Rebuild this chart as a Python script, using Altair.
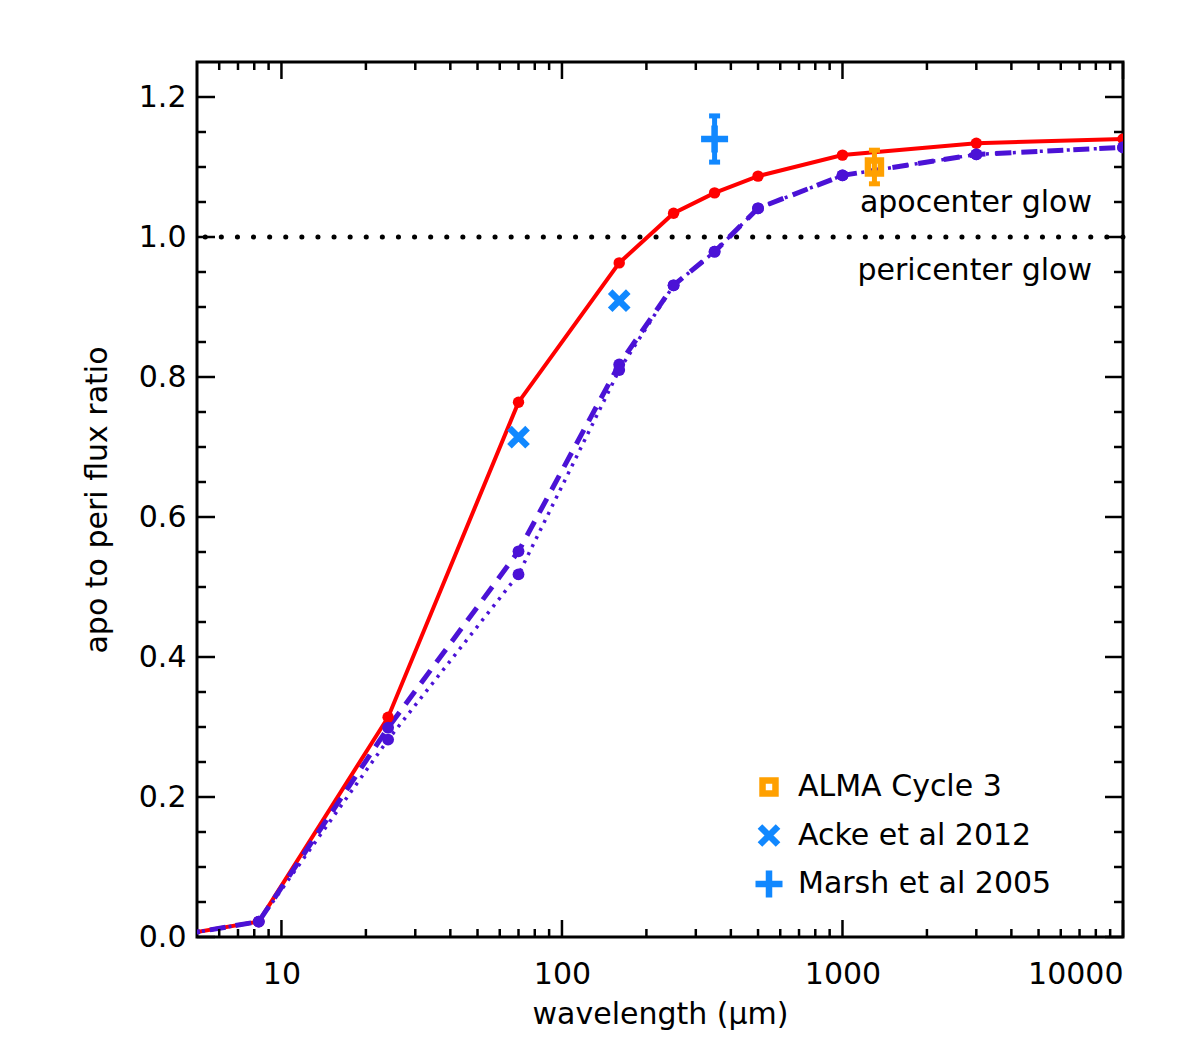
import altair as alt
import pandas as pd

FONT = "DejaVu Sans"

# Model curves: wavelength (micron) vs apocenter-to-pericenter flux ratio
wavelength = [4.5, 8.3, 24, 70, 160, 250, 350, 500, 1000, 3000, 10000]
ratio_solid = [0.004, 0.022, 0.314, 0.764, 0.963, 1.034, 1.063, 1.087, 1.117, 1.134, 1.140]
ratio_dashed = [0.004, 0.022, 0.299, 0.551, 0.818, 0.931, 0.979, 1.041, 1.088, 1.118, 1.128]
ratio_dotted = [0.004, 0.022, 0.282, 0.518, 0.810, 0.931, 0.979, 1.041, 1.088, 1.118, 1.128]

# Observed ratios
obs_source = ["ALMA Cycle 3", "Acke et al 2012", "Acke et al 2012", "Marsh et al 2005"]
obs_wavelength = [1300, 70, 160, 350]
obs_ratio = [1.100, 0.714, 0.909, 1.140]
obs_error = [0.024, 0.0, 0.0, 0.033]

legend_names = ["ALMA Cycle 3", "Acke et al 2012", "Marsh et al 2005"]
legend_colors = ["#ffa000", "#1188ff", "#1188ff"]
legend_shapes = [
    "M-0.48,-0.48H0.48V0.48H-0.48Z",
    "M-0.67,-0.67L0.67,0.67M0.67,-0.67L-0.67,0.67",
    "M-1,0H1M0,-1V1",
]

# Axis tick positions
x_major = [10, 100, 1000, 10000]
x_minor = [6, 7, 8, 9, 20, 30, 40, 50, 60, 70, 80, 90,
           200, 300, 400, 500, 600, 700, 800, 900,
           2000, 3000, 4000, 5000, 6000, 7000, 8000, 9000]
y_major = [0.0, 0.2, 0.4, 0.6, 0.8, 1.0, 1.2]
y_minor = [0.05, 0.1, 0.15, 0.25, 0.3, 0.35, 0.45, 0.5, 0.55, 0.65, 0.7, 0.75,
           0.85, 0.9, 0.95, 1.05, 1.1, 1.15]

W, H = 926, 875
RED = "#ff0000"
PURPLE = "#4b12d6"

models = pd.DataFrame({
    "wavelength": wavelength,
    "solid": ratio_solid,
    "dashed": ratio_dashed,
    "dotted": ratio_dotted,
})
color_of = dict(zip(legend_names, legend_colors))
obs = pd.DataFrame({
    "source": obs_source,
    "wavelength": obs_wavelength,
    "ratio": obs_ratio,
    "err": obs_error,
})
obs["lo"] = obs["ratio"] - obs["err"]
obs["hi"] = obs["ratio"] + obs["err"]
obs["color"] = obs["source"].map(color_of)
errs = obs[obs["err"] > 0]

xs = alt.Scale(type="log", domain=[5, 10000], nice=False)
ys = alt.Scale(domain=[0, 1.25], nice=False, zero=False)
x_axis = alt.Axis(values=x_major, format="d", title="wavelength (μm)")
y_axis = alt.Axis(values=y_major, format=".1f", title="apo to peri flux ratio")


def X(field):
    return alt.X(field, type="quantitative", scale=xs, axis=x_axis)


def Y(field):
    return alt.Y(field, type="quantitative", scale=ys, axis=y_axis)


# reference level between apocenter and pericenter glow
level = pd.DataFrame({"level": [1.0]})
unity = alt.Chart(level).mark_rule(
    color="black", strokeWidth=5, strokeDash=[0.1, 16], strokeCap="round"
).encode(y=Y("level"))

note_apo = alt.Chart(pd.DataFrame({"level": [1.0], "t": ["apocenter glow"]})).mark_text(
    font=FONT, fontSize=30, align="right", baseline="middle", dy=-34, color="black"
).encode(x=alt.value(W - 31), y=Y("level"), text="t:N")
note_peri = alt.Chart(pd.DataFrame({"level": [1.0], "t": ["pericenter glow"]})).mark_text(
    font=FONT, fontSize=30, align="right", baseline="middle", dy=34, color="black"
).encode(x=alt.value(W - 31), y=Y("level"), text="t:N")

base = alt.Chart(models)
solid_line = base.mark_line(color=RED, strokeWidth=4, clip=True).encode(x=X("wavelength"), y=Y("solid"))
solid_pts = base.mark_circle(color=RED, size=130, opacity=1, clip=True).encode(x=X("wavelength"), y=Y("solid"))
dashed_line = base.mark_line(color=PURPLE, strokeWidth=5, strokeDash=[16, 10], clip=True).encode(
    x=X("wavelength"), y=Y("dashed"))
dashed_pts = base.mark_circle(color=PURPLE, size=140, opacity=1, clip=True).encode(x=X("wavelength"), y=Y("dashed"))
dotted_line = base.mark_line(color=PURPLE, strokeWidth=3.5, strokeDash=[3, 6], clip=True).encode(
    x=X("wavelength"), y=Y("dotted"))
dotted_pts = base.mark_circle(color=PURPLE, size=140, opacity=1, clip=True).encode(x=X("wavelength"), y=Y("dotted"))

err_bars = alt.Chart(errs).mark_rule(strokeWidth=5, clip=True).encode(
    x=X("wavelength"), y=Y("lo"), y2="hi:Q", color=alt.Color("color:N", scale=None))
err_top = alt.Chart(errs).mark_tick(orient="horizontal", size=11, thickness=5, opacity=1, clip=True).encode(
    x=X("wavelength"), y=Y("hi"), color=alt.Color("color:N", scale=None))
err_bot = alt.Chart(errs).mark_tick(orient="horizontal", size=11, thickness=5, opacity=1, clip=True).encode(
    x=X("wavelength"), y=Y("lo"), color=alt.Color("color:N", scale=None))

legend = alt.Legend(title=None, orient="none", legendX=555, legendY=708,
                    padding=0, rowPadding=-5.5, labelOffset=12, gridAlign="all",
                    labelFont=FONT, labelFontSize=30, labelColor="black",
                    symbolSize=729, symbolStrokeWidth=6.5, symbolOpacity=1,
                    labelLimit=400)
obs_pts = alt.Chart(obs).mark_point(filled=False, size=729, strokeWidth=6.5, opacity=1, clip=True).encode(
    x=X("wavelength"),
    y=Y("ratio"),
    color=alt.Color("source:N", scale=alt.Scale(domain=legend_names, range=legend_colors), legend=legend),
    shape=alt.Shape("source:N", scale=alt.Scale(domain=legend_names, range=legend_shapes), legend=legend),
)

# inward-pointing ticks on all four sides
ymaj = alt.Chart(pd.DataFrame({"v": y_major}))
ymin = alt.Chart(pd.DataFrame({"v": y_minor}))
xmaj = alt.Chart(pd.DataFrame({"v": x_major}))
xmin = alt.Chart(pd.DataFrame({"v": x_minor}))
TK = dict(color="black", strokeWidth=2.5)
ticks = [
    ymaj.mark_rule(**TK).encode(y=Y("v"), x=alt.value(0), x2=alt.value(18)),
    ymaj.mark_rule(**TK).encode(y=Y("v"), x=alt.value(W - 18), x2=alt.value(W)),
    ymin.mark_rule(**TK).encode(y=Y("v"), x=alt.value(0), x2=alt.value(9)),
    ymin.mark_rule(**TK).encode(y=Y("v"), x=alt.value(W - 9), x2=alt.value(W)),
    xmaj.mark_rule(**TK).encode(x=X("v"), y=alt.value(H), y2=alt.value(H - 17)),
    xmaj.mark_rule(**TK).encode(x=X("v"), y=alt.value(0), y2=alt.value(17)),
    xmin.mark_rule(**TK).encode(x=X("v"), y=alt.value(H), y2=alt.value(H - 8)),
    xmin.mark_rule(**TK).encode(x=X("v"), y=alt.value(0), y2=alt.value(8)),
]

chart = alt.layer(
    unity, note_apo, note_peri,
    solid_line, dashed_line, dotted_line,
    solid_pts, dashed_pts, dotted_pts,
    err_bars, err_top, err_bot, obs_pts,
    *ticks,
).properties(
    width=W, height=H,
    autosize=alt.AutoSizeParams(type="none"),
    padding={"left": 197, "top": 62, "right": 57, "bottom": 126},
    background="white",
).configure_view(
    stroke="black", strokeWidth=3
).configure_axis(
    domain=False, grid=False, ticks=False, tickSize=0,
    labelFont=FONT, labelFontSize=30, labelColor="black",
    titleFont=FONT, titleFontSize=30, titleFontWeight="normal", titleColor="black",
).configure_axisX(
    labelPadding=22, titlePadding=10
).configure_axisY(
    labelPadding=11, titlePadding=26
)

chart.save("out.html", embed_options={"renderer": "svg", "actions": False})
